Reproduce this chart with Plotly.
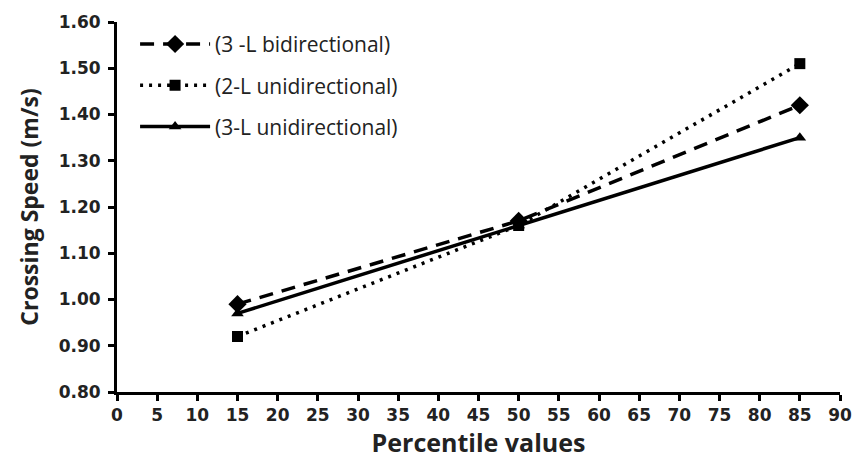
import plotly.graph_objects as go

percentiles = [15, 50, 85]
bi_3L = [0.99, 1.17, 1.42]
uni_2L = [0.92, 1.16, 1.51]
uni_3L = [0.97, 1.16, 1.35]

x_ticks = list(range(0, 95, 5))
y_ticks = [0.8 + 0.1 * i for i in range(9)]

fig = go.Figure()
fig.add_trace(go.Scatter(x=percentiles, y=bi_3L, mode="lines+markers",
                         name="(3 -L bidirectional)", legendgroup="a",
                         line=dict(color="black", width=3.5, dash="14px,9px"),
                         marker=dict(symbol="diamond", size=14, color="black")))
fig.add_trace(go.Scatter(x=percentiles, y=uni_2L, mode="lines+markers",
                         name="(2-L unidirectional)", legendgroup="b",
                         line=dict(color="black", width=3.5, dash="3px,6px"),
                         marker=dict(symbol="square", size=11, color="black")))
fig.add_trace(go.Scatter(x=percentiles, y=uni_3L, mode="lines+markers",
                         name="(3-L unidirectional)", legendgroup="c",
                         line=dict(color="black", width=3.5, dash="solid"),
                         marker=dict(symbol="triangle-up", size=11, color="black")))

axis_common = dict(showgrid=False, zeroline=False, showline=True, linecolor="black",
                   linewidth=3, ticks="outside", ticklen=6, tickwidth=2.5, tickcolor="black",
                   tickfont=dict(family="DejaVu Sans", size=17, color="#222", weight="bold"))

fig.update_xaxes(range=[0, 90], tickvals=x_ticks,
                 title=dict(text="Percentile values",
                            font=dict(family="Open Sans", size=25, color="#222", weight="bold"),
                            standoff=3),
                 **axis_common)
fig.update_yaxes(range=[0.8, 1.6], tickvals=y_ticks, tickformat=".2f",
                 ticklabelstandoff=4,
                 title=dict(text="Crossing Speed (m/s)",
                            font=dict(family="Open Sans", size=23, color="#222", weight="bold"),
                            standoff=14),
                 **axis_common)

fig.update_layout(
    width=864, height=460,
    margin=dict(l=117, r=15, t=20, b=68),
    plot_bgcolor="white", paper_bgcolor="white",
    font=dict(family="Open Sans", color="#222"),
    legend=dict(x=0.025, y=0.995, xanchor="left", yanchor="top",
                font=dict(family="Open Sans", size=21, color="#222"),
                tracegroupgap=11, itemwidth=70, bgcolor="rgba(0,0,0,0)"),
)
fig.write_html("out.html")
